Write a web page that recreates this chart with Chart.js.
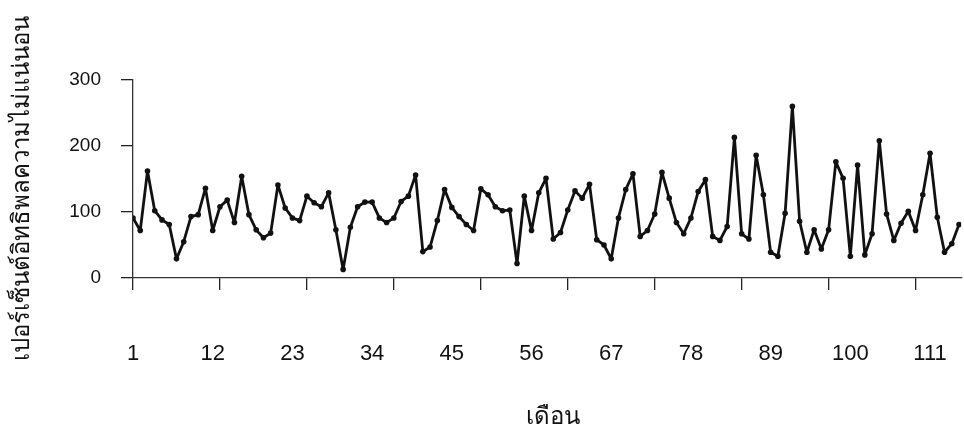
<!DOCTYPE html>
<html>
<head>
<meta charset="utf-8">
<script src="https://cdn.jsdelivr.net/npm/chart.js@4"></script>
<style>
  html, body { margin: 0; padding: 0; background: #fff; }
  #wrap { width: 964px; height: 429px; }
</style>
</head>
<body>
<div id="wrap"><canvas id="c" width="964" height="429"></canvas></div>
<script>
// Months (categories)
const months = [1,2,3,4,5,6,7,8,9,10,11,12,13,14,15,16,17,18,19,20,21,22,23,24,25,26,27,28,29,30,
  31,32,33,34,35,36,37,38,39,40,41,42,43,44,45,46,47,48,49,50,51,52,53,54,55,56,57,58,59,60,
  61,62,63,64,65,66,67,68,69,70,71,72,73,74,75,76,77,78,79,80,81,82,83,84,85,86,87,88,89,90,
  91,92,93,94,95,96,97,98,99,100,101,102,103,104,105,106,107,108,109,110,111,112,113,114,115];

// Uncertainty influence percentage per month
const influence = [91,72,162,102,88,81,29,55,93,96,136,72,108,118,84,154,96,73,61,68,
  141,106,91,87,124,114,108,129,73,13,77,108,115,115,91,84,91,116,124,156,
  40,47,87,134,107,93,81,72,135,126,108,102,103,22,124,72,129,151,59,69,
  103,132,121,142,58,50,29,91,134,158,63,72,97,160,121,84,67,91,131,149,
  63,57,78,213,67,59,186,126,39,33,98,260,86,39,73,44,73,176,151,33,
  171,35,67,208,97,57,83,101,72,126,189,92,39,52,81];

// Axis ticks
const xLabelMonths = [1,12,23,34,45,56,67,78,89,100,111];
const xLabelTexts = ['1','12','23','34','45','56','67','78','89','100','111'];
const xMarkMonths = [1,13,25,37,49,61,73,85,97,109];
const yTicks = [0,100,200,300];

const yTitle = 'เปอร์เซ็นต์อิทธิพลความไม่แน่นอน   ';
const xTitle = '  เดือน';

const FONT = "'Liberation Sans', Arial, sans-serif";
const THAI = "'Noto Sans', 'DejaVu Sans', sans-serif";

const points = months.map((m, i) => ({ x: m, y: influence[i] }));

new Chart(document.getElementById('c'), {
  type: 'line',
  data: {
    datasets: [{
      data: points,
      borderColor: '#111',
      backgroundColor: '#111',
      borderWidth: 2.8,
      borderJoinStyle: 'round',
      borderCapStyle: 'round',
      pointRadius: 2.8,
      pointHoverRadius: 2.8,
      pointBackgroundColor: '#111',
      pointBorderWidth: 0,
      tension: 0,
      xAxisID: 'x',
      yAxisID: 'y'
    }]
  },
  options: {
    responsive: false,
    animation: false,
    events: [],
    layout: { padding: { top: 80, right: -3, bottom: 0, left: 0 } },
    plugins: { legend: { display: false }, tooltip: { enabled: false } },
    scales: {
      x: {
        type: 'linear',
        position: 'bottom',
        min: 1,
        max: 115.3,
        afterBuildTicks: (s) => { s.ticks = xMarkMonths.map(v => ({ value: v })); },
        afterFit: (s) => { s.height = 60; },
        ticks: { display: false, padding: 0 },
        grid: { drawOnChartArea: false, drawTicks: true, tickLength: 12, color: '#222', lineWidth: 1.3 },
        border: { display: true, color: '#333', width: 1.3 }
      },
      xl: {
        type: 'linear',
        position: 'bottom',
        min: 1,
        max: 115.3,
        afterBuildTicks: (s) => { s.ticks = xLabelMonths.map(v => ({ value: v })); },
        afterFit: (s) => { s.height = 91; },
        ticks: {
          autoSkip: false, maxRotation: 0, padding: 3,
          color: '#111', font: { family: FONT, size: 22 },
          callback: (v) => { const i = xLabelMonths.indexOf(v); return i >= 0 ? xLabelTexts[i] : ''; }
        },
        grid: { display: false, drawTicks: false },
        border: { display: false },
        title: { display: true, text: xTitle, color: '#111', font: { family: THAI, size: 24, lineHeight: 1 }, padding: { top: 0, bottom: 0 } }
      },
      y: {
        type: 'linear',
        min: 0,
        max: 300,
        afterBuildTicks: (s) => { s.ticks = yTicks.map(v => ({ value: v })); },
        afterFit: (s) => { s.width = 133; },
        ticks: { color: '#111', padding: 20, font: { family: FONT, size: 19 } },
        grid: { drawOnChartArea: false, drawTicks: true, tickLength: 12, color: '#222', lineWidth: 1.3 },
        border: { display: true, color: '#333', width: 1.3 },
        title: { display: true, text: yTitle, color: '#111', font: { family: THAI, size: 24, lineHeight: 1 }, padding: { top: 10, bottom: 0 } }
      }
    }
  }
});
</script>
</body>
</html>
